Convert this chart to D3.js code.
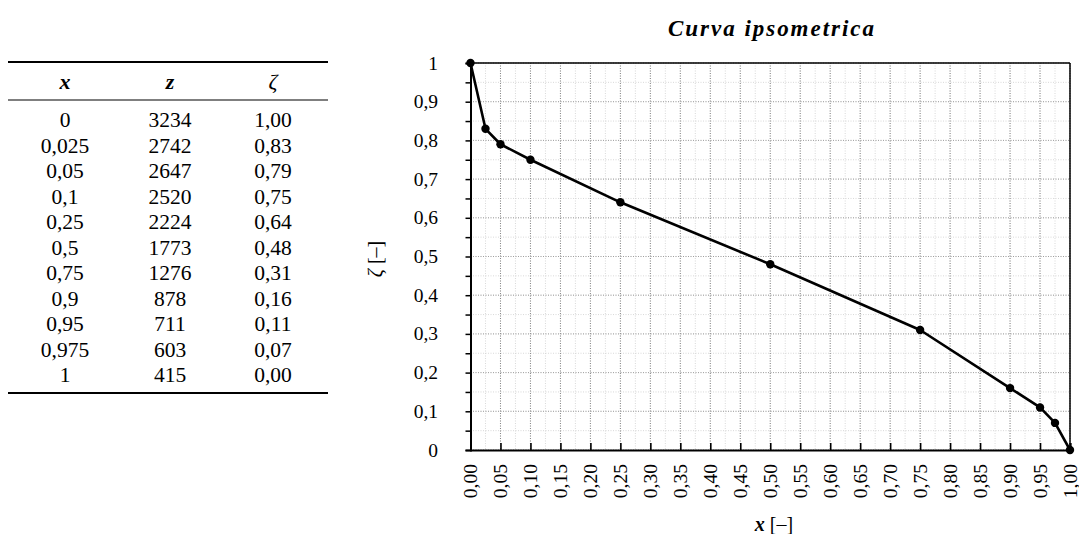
<!DOCTYPE html>
<html>
<head>
<meta charset="utf-8">
<script src="https://cdn.jsdelivr.net/npm/d3@7"></script>
<style>
  html, body { margin: 0; padding: 0; background: #fff; }
  svg { display: block; }
  text { font-family: "Liberation Serif", "DejaVu Serif", serif; fill: #000; }
</style>
</head>
<body>
<svg id="chart" width="1079" height="534"></svg>
<script>
// Hypsometric data: relative area x, elevation z [m], relative elevation zeta
const xRel   = [0, 0.025, 0.05, 0.1, 0.25, 0.5, 0.75, 0.9, 0.95, 0.975, 1];
const xLabel = ["0", "0,025", "0,05", "0,1", "0,25", "0,5", "0,75", "0,9", "0,95", "0,975", "1"];
const zElev  = [3234, 2742, 2647, 2520, 2224, 1773, 1276, 878, 711, 603, 415];
const zeta   = [1.00, 0.83, 0.79, 0.75, 0.64, 0.48, 0.31, 0.16, 0.11, 0.07, 0.00];

const xTicks = d3.range(0, 21).map(i => i * 0.05);
const xMinor = d3.range(0, 41).map(i => i * 0.025);
const yTicks = d3.range(0, 11).map(i => i * 0.1);
const yMinor = d3.range(0, 21).map(i => i * 0.05);

const title = "Curva ipsometrica";

const svg = d3.select("#chart");
const comma = s => s.replace(".", ",");

// ---------- Table ----------
const tbl = svg.append("g");
const colX = [65, 170, 273];
const tLeft = 8, tRight = 328;
const headY = 81, row0 = 120, rowStep = 25.5;

tbl.append("line").attr("x1", tLeft).attr("x2", tRight).attr("y1", 62).attr("y2", 62)
  .attr("stroke", "#000").attr("stroke-width", 1.8);
tbl.append("line").attr("x1", tLeft).attr("x2", tRight).attr("y1", 100).attr("y2", 100)
  .attr("stroke", "#000").attr("stroke-width", 1.1);
tbl.append("line").attr("x1", tLeft).attr("x2", tRight)
  .attr("y1", row0 + rowStep * (xRel.length - 1) + 18).attr("y2", row0 + rowStep * (xRel.length - 1) + 18)
  .attr("stroke", "#000").attr("stroke-width", 1.8);

const heads = [
  { t: "x", w: "bold", s: "italic" },
  { t: "z", w: "bold", s: "italic" },
  { t: "ζ", w: "normal", s: "italic" }
];
heads.forEach((h, i) => {
  tbl.append("text").attr("x", colX[i]).attr("y", headY)
    .attr("text-anchor", "middle").attr("dominant-baseline", "central")
    .attr("font-size", 22).attr("font-weight", h.w).attr("font-style", h.s)
    .text(h.t);
});

const rows = tbl.selectAll("g.row").data(xRel.map((d, i) => i)).join("g")
  .attr("transform", i => `translate(0,${row0 + rowStep * i})`);
rows.append("text").attr("x", colX[0]).attr("text-anchor", "middle")
  .attr("dominant-baseline", "central").attr("font-size", 21.5)
  .text(i => xLabel[i]);
rows.append("text").attr("x", colX[1]).attr("text-anchor", "middle")
  .attr("dominant-baseline", "central").attr("font-size", 21.5)
  .text(i => zElev[i]);
rows.append("text").attr("x", colX[2]).attr("text-anchor", "middle")
  .attr("dominant-baseline", "central").attr("font-size", 21.5)
  .text(i => comma(d3.format(".2f")(zeta[i])));

// ---------- Chart ----------
const pl = 470.5, pr = 1070, pt = 63, pb = 450;
const x = d3.scaleLinear().domain([0, 1]).range([pl, pr]);
const y = d3.scaleLinear().domain([0, 1]).range([pb, pt]);

const grid = svg.append("g");
// minor grid
grid.selectAll("line.vminor").data(xMinor).join("line")
  .attr("x1", d => x(d)).attr("x2", d => x(d)).attr("y1", pt).attr("y2", pb)
  .attr("stroke", "#cfcfcf").attr("stroke-width", 0.8).attr("stroke-dasharray", "1,1.5");
grid.selectAll("line.hminor").data(yMinor).join("line")
  .attr("x1", pl).attr("x2", pr).attr("y1", d => y(d)).attr("y2", d => y(d))
  .attr("stroke", "#cfcfcf").attr("stroke-width", 0.8).attr("stroke-dasharray", "1,1.5");
// major grid
grid.selectAll("line.vmajor").data(xTicks).join("line")
  .attr("x1", d => x(d)).attr("x2", d => x(d)).attr("y1", pt).attr("y2", pb)
  .attr("stroke", "#7a7a7a").attr("stroke-width", 0.9).attr("stroke-dasharray", "1,1.5");
grid.selectAll("line.hmajor").data(yTicks).join("line")
  .attr("x1", pl).attr("x2", pr).attr("y1", d => y(d)).attr("y2", d => y(d))
  .attr("stroke", "#9a9a9a").attr("stroke-width", 0.9).attr("stroke-dasharray", "1,1.5");

// frame
svg.append("line").attr("x1", pl).attr("x2", pr).attr("y1", pt).attr("y2", pt)
  .attr("stroke", "#000").attr("stroke-width", 1.5);
svg.append("line").attr("x1", pr).attr("x2", pr).attr("y1", pt).attr("y2", pb)
  .attr("stroke", "#000").attr("stroke-width", 1.5);

// y axis: outward ticks every 0.05, labels every 0.1
const yAxis = d3.axisLeft(y).tickValues(yMinor).tickSize(5).tickFormat("");
const gy = svg.append("g").attr("transform", `translate(${pl},0)`).call(yAxis);
gy.select(".domain").attr("stroke", "#000").attr("stroke-width", 2);
gy.selectAll(".tick line").attr("stroke", "#000").attr("stroke-width", 1.5);

const yFmt = d => (d === 0 ? "0" : Math.abs(d - 1) < 1e-9 ? "1" : comma(d3.format(".1f")(d)));
svg.append("g").selectAll("text").data(yTicks).join("text")
  .attr("x", 438).attr("y", d => y(d))
  .attr("text-anchor", "end").attr("dominant-baseline", "central")
  .attr("font-size", 19.5).text(yFmt);

// x axis: inward ticks every 0.05
const xAxis = d3.axisBottom(x).tickValues(xTicks).tickSize(-7).tickFormat("");
const gx = svg.append("g").attr("transform", `translate(0,${pb})`).call(xAxis);
gx.select(".domain").attr("stroke", "#000").attr("stroke-width", 2);
gx.selectAll(".tick line").attr("stroke", "#000").attr("stroke-width", 1.6);

svg.append("g").selectAll("text").data(xTicks).join("text")
  .attr("transform", d => `translate(${x(d)},464) rotate(-90)`)
  .attr("text-anchor", "end").attr("dominant-baseline", "central")
  .attr("font-size", 19.5).text(d => comma(d3.format(".2f")(d)));

// series
const line = d3.line().x((d, i) => x(xRel[i])).y(d => y(d));
svg.append("path").datum(zeta).attr("d", line)
  .attr("fill", "none").attr("stroke", "#000").attr("stroke-width", 2.6)
  .attr("stroke-linejoin", "round");
svg.append("g").selectAll("circle").data(zeta).join("circle")
  .attr("cx", (d, i) => x(xRel[i])).attr("cy", d => y(d)).attr("r", 4.2).attr("fill", "#000");

// title and axis titles
svg.append("text").attr("x", 771).attr("y", 36).attr("text-anchor", "middle")
  .attr("font-size", 23).attr("font-weight", "bold").attr("font-style", "italic")
  .attr("textLength", 206).attr("lengthAdjust", "spacing")
  .text(title);

const xt = svg.append("text").attr("x", 774).attr("y", 524)
  .attr("text-anchor", "middle").attr("dominant-baseline", "central").attr("font-size", 20);
xt.append("tspan").attr("font-weight", "bold").attr("font-style", "italic").text("x");
xt.append("tspan").text(" [–]");

const yt = svg.append("text").attr("transform", "translate(375,259) rotate(-90)")
  .attr("text-anchor", "middle").attr("dominant-baseline", "central").attr("font-size", 20);
yt.append("tspan").attr("font-style", "italic").text("ζ");
yt.append("tspan").text(" [–]");
</script>
</body>
</html>
